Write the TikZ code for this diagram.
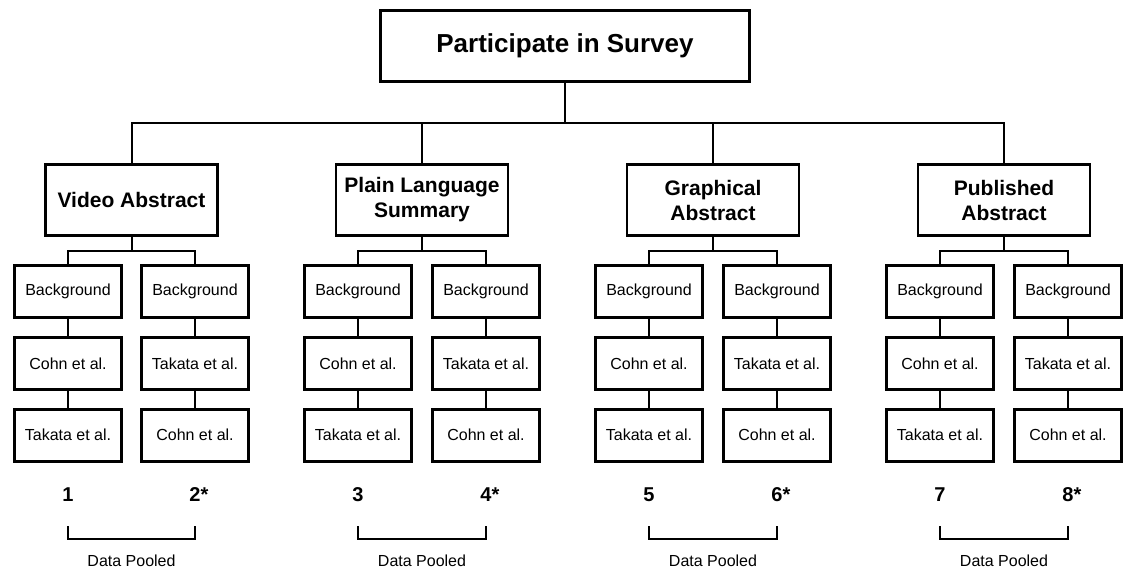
\documentclass[tikz,border=0pt]{standalone}
\usepackage{fontspec}
\setmainfont{Liberation Sans}
\usetikzlibrary{positioning}

\begin{document}
\begin{tikzpicture}[x=1pt, y=1pt,
  topbox/.style={draw, line width=2.8pt, minimum width=369pt, minimum height=71pt, inner sep=0pt, font=\fontsize{26pt}{30pt}\selectfont\bfseries},
  groupbox/.style={draw, line width=2.8pt, minimum width=172pt, minimum height=71pt, inner sep=0pt, align=center, font=\fontsize{21pt}{25pt}\selectfont\bfseries},
  armbox/.style={draw, line width=2.8pt, minimum width=107pt, minimum height=52pt, inner sep=0pt, font=\fontsize{16pt}{19pt}\selectfont},
  armnum/.style={font=\fontsize{20pt}{24pt}\selectfont\bfseries},
  pooled/.style={font=\fontsize{16pt}{19pt}\selectfont},
  link/.style={line width=2pt}
]
  \useasboundingbox (0,0) rectangle (1129,-569);

  \node[topbox] (survey) at (565,-46) {Participate in Survey};

  \node[groupbox] (video) at (131.5,-200) {Video Abstract};
  \node[groupbox] (plain) at (422,-200) {Plain Language\\Summary};
  \node[groupbox] (graphical) at (713,-200) {Graphical\\Abstract};
  \node[groupbox] (published) at (1004,-200) {Published\\Abstract};

  % arms 1 and 2
  \node[armbox] (arm1a) at (68,-291.5) {Background};
  \node[armbox, below=17pt of arm1a] (arm1b) {Cohn et al.};
  \node[armbox, below=17pt of arm1b] (arm1c) {Takata et al.};
  \node[armbox] (arm2a) at (195,-291.5) {Background};
  \node[armbox, below=17pt of arm2a] (arm2b) {Takata et al.};
  \node[armbox, below=17pt of arm2b] (arm2c) {Cohn et al.};

  % arms 3 and 4
  \node[armbox] (arm3a) at (358,-291.5) {Background};
  \node[armbox, below=17pt of arm3a] (arm3b) {Cohn et al.};
  \node[armbox, below=17pt of arm3b] (arm3c) {Takata et al.};
  \node[armbox] (arm4a) at (486,-291.5) {Background};
  \node[armbox, below=17pt of arm4a] (arm4b) {Takata et al.};
  \node[armbox, below=17pt of arm4b] (arm4c) {Cohn et al.};

  % arms 5 and 6
  \node[armbox] (arm5a) at (649,-291.5) {Background};
  \node[armbox, below=17pt of arm5a] (arm5b) {Cohn et al.};
  \node[armbox, below=17pt of arm5b] (arm5c) {Takata et al.};
  \node[armbox] (arm6a) at (777,-291.5) {Background};
  \node[armbox, below=17pt of arm6a] (arm6b) {Takata et al.};
  \node[armbox, below=17pt of arm6b] (arm6c) {Cohn et al.};

  % arms 7 and 8
  \node[armbox] (arm7a) at (940,-291.5) {Background};
  \node[armbox, below=17pt of arm7a] (arm7b) {Cohn et al.};
  \node[armbox, below=17pt of arm7b] (arm7c) {Takata et al.};
  \node[armbox] (arm8a) at (1068,-291.5) {Background};
  \node[armbox, below=17pt of arm8a] (arm8b) {Takata et al.};
  \node[armbox, below=17pt of arm8b] (arm8c) {Cohn et al.};

  \node[armnum] (num1) at (68,-495) {1};
  \node[armnum] (num2) at (195,-495) {2\rlap{*}};
  \node[armnum] (num3) at (358,-495) {3};
  \node[armnum] (num4) at (486,-495) {4\rlap{*}};
  \node[armnum] (num5) at (649,-495) {5};
  \node[armnum] (num6) at (777,-495) {6\rlap{*}};
  \node[armnum] (num7) at (940,-495) {7};
  \node[armnum] (num8) at (1068,-495) {8\rlap{*}};

  \node[pooled] (pool1) at (131.5,-561) {Data Pooled};
  \node[pooled] (pool2) at (422,-561) {Data Pooled};
  \node[pooled] (pool3) at (713,-561) {Data Pooled};
  \node[pooled] (pool4) at (1004,-561) {Data Pooled};

  % tree
  \draw[link] (survey.south) -- ++(0,-40) coordinate (split);
  \draw[link] (video.north) |- (split) -| (published.north);
  \draw[link] (plain.north) |- (split);
  \draw[link] (graphical.north) |- (split);

  \draw[link] (video.south) -- ++(0,-14) coordinate (vsplit);
  \draw[link] (arm1a.north) |- (vsplit) -| (arm2a.north);
  \draw[link] (plain.south) -- ++(0,-14) coordinate (psplit);
  \draw[link] (arm3a.north) |- (psplit) -| (arm4a.north);
  \draw[link] (graphical.south) -- ++(0,-14) coordinate (gsplit);
  \draw[link] (arm5a.north) |- (gsplit) -| (arm6a.north);
  \draw[link] (published.south) -- ++(0,-14) coordinate (bsplit);
  \draw[link] (arm7a.north) |- (bsplit) -| (arm8a.north);

  \draw[link] (arm1a) -- (arm1b) -- (arm1c);
  \draw[link] (arm2a) -- (arm2b) -- (arm2c);
  \draw[link] (arm3a) -- (arm3b) -- (arm3c);
  \draw[link] (arm4a) -- (arm4b) -- (arm4c);
  \draw[link] (arm5a) -- (arm5b) -- (arm5c);
  \draw[link] (arm6a) -- (arm6b) -- (arm6c);
  \draw[link] (arm7a) -- (arm7b) -- (arm7c);
  \draw[link] (arm8a) -- (arm8b) -- (arm8c);

  % brackets
  \draw[link] ([yshift=-31pt]num1.center) |- ([yshift=22pt]pool1.center) -| ([yshift=-31pt]num2.center);
  \draw[link] ([yshift=-31pt]num3.center) |- ([yshift=22pt]pool2.center) -| ([yshift=-31pt]num4.center);
  \draw[link] ([yshift=-31pt]num5.center) |- ([yshift=22pt]pool3.center) -| ([yshift=-31pt]num6.center);
  \draw[link] ([yshift=-31pt]num7.center) |- ([yshift=22pt]pool4.center) -| ([yshift=-31pt]num8.center);
\end{tikzpicture}
\end{document}
